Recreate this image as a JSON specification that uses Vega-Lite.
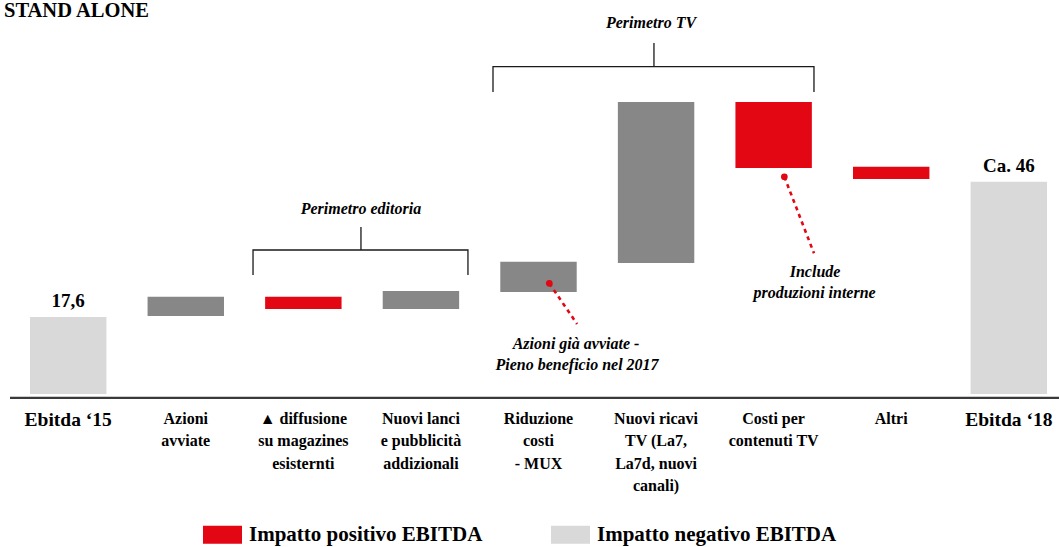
{
  "$schema": "https://vega.github.io/schema/vega-lite/v6.json",
  "width": 1049,
  "height": 394,
  "autosize": {"type": "none"},
  "padding": {"left": 10, "top": 0, "right": 0, "bottom": 153},
  "background": "white",
  "config": {"view": {"stroke": null}, "font": "Liberation Serif, Times New Roman, serif"},
  "datasets": {
    "barre": [
      {"voce": "Ebitda ‘15", "inizio": 0, "fine": 17.6, "tipo": "Ebitda", "etichetta": "17,6"},
      {"voce": "Azioni|avviate", "inizio": 17.8, "fine": 22.2, "tipo": "Iniziative", "etichetta": ""},
      {"voce": "▲ diffusione|su magazines|esisternti", "inizio": 19.4, "fine": 22.2, "tipo": "Impatto positivo EBITDA", "etichetta": ""},
      {"voce": "Nuovi lanci|e pubblicità|addizionali", "inizio": 19.4, "fine": 23.5, "tipo": "Iniziative", "etichetta": ""},
      {"voce": "Riduzione|costi|- MUX", "inizio": 23.3, "fine": 30.2, "tipo": "Iniziative", "etichetta": ""},
      {"voce": "Nuovi ricavi|TV (La7,|La7d, nuovi|canali)", "inizio": 29.9, "fine": 66.7, "tipo": "Iniziative", "etichetta": ""},
      {"voce": "Costi per|contenuti TV", "inizio": 51.6, "fine": 66.7, "tipo": "Impatto positivo EBITDA", "etichetta": ""},
      {"voce": "Altri", "inizio": 49.1, "fine": 51.9, "tipo": "Impatto positivo EBITDA", "etichetta": ""},
      {"voce": "Ebitda ‘18", "inizio": 0, "fine": 48.5, "tipo": "Ebitda", "etichetta": "Ca. 46"}
    ],
    "parentesi": [
      {"gruppo": "ed", "ordine": 1, "u": 1.572, "v": 27.18},
      {"gruppo": "ed", "ordine": 2, "u": 1.572, "v": 32.89},
      {"gruppo": "ed", "ordine": 3, "u": 3.400, "v": 32.89},
      {"gruppo": "ed", "ordine": 4, "u": 3.400, "v": 27.18},
      {"gruppo": "ed_s", "ordine": 1, "u": 2.490, "v": 32.89},
      {"gruppo": "ed_s", "ordine": 2, "u": 2.490, "v": 38.15},
      {"gruppo": "tv", "ordine": 1, "u": 3.613, "v": 68.98},
      {"gruppo": "tv", "ordine": 2, "u": 3.613, "v": 74.76},
      {"gruppo": "tv", "ordine": 3, "u": 6.343, "v": 74.76},
      {"gruppo": "tv", "ordine": 4, "u": 6.343, "v": 68.98},
      {"gruppo": "tv_s", "ordine": 1, "u": 4.982, "v": 74.76},
      {"gruppo": "tv_s", "ordine": 2, "u": 4.982, "v": 80.17}
    ],
    "richiami": [
      {"gruppo": "mux", "ordine": 1, "u": 4.092, "v": 25.29},
      {"gruppo": "mux", "ordine": 2, "u": 4.328, "v": 15.99},
      {"gruppo": "cont", "ordine": 1, "u": 6.091, "v": 49.63},
      {"gruppo": "cont", "ordine": 2, "u": 6.343, "v": 32.14}
    ],
    "note": [
      {"testo": "Perimetro TV", "u": 4.957, "v": 84.74},
      {"testo": "Perimetro editoria", "u": 2.490, "v": 42.15},
      {"testo": "Azioni già avviate -", "u": 4.319, "v": 11.35},
      {"testo": "Pieno beneficio nel 2017", "u": 4.328, "v": 6.62},
      {"testo": "Include", "u": 6.352, "v": 27.94},
      {"testo": "produzioni interne", "u": 6.348, "v": 23.18}
    ],
    "titolo": [
      {"testo": "STAND ALONE", "u": -0.546, "v": 86.2}
    ]
  },
  "layer": [
    {
      "data": {"name": "barre"},
      "layer": [
        {
          "mark": {"type": "bar"},
          "encoding": {
            "x": {
              "field": "voce", "type": "nominal", "sort": null,
              "scale": {"paddingInner": 0.35, "paddingOuter": 0.136, "align": 0.625},
              "axis": {
                "title": null, "domain": false, "ticks": false, "labelAngle": 0,
                "labelPadding": 16, "labelExpr": "split(datum.label, '|')",
                "labelFont": "Liberation Serif, Times New Roman, serif", "labelFontWeight": "bold", "labelColor": "#000000",
                "labelLineHeight": 22.5, "labelLimit": 0, "labelOverlap": false, "labelFlush": false,
                "labelFontSize": {"condition": {"test": "indexof(datum.value, 'Ebitda') === 0", "value": 19.5}, "value": 16}
              }
            },
            "y": {"field": "inizio", "type": "quantitative", "scale": {"domain": [0, 90], "nice": false, "zero": false}, "axis": null},
            "y2": {"field": "fine"},
            "color": {
              "field": "tipo", "type": "nominal",
              "scale": {
                "domain": ["Impatto positivo EBITDA", "Impatto negativo EBITDA", "Ebitda", "Iniziative"],
                "range": ["#E30613", "#D9D9D9", "#D9D9D9", "#878787"]
              },
              "legend": {
                "title": null, "orient": "none", "legendX": 193, "legendY": 515, "direction": "horizontal",
                "values": ["Impatto positivo EBITDA", "Impatto negativo EBITDA"],
                "symbolType": "M-1,-0.46H1V0.46H-1Z", "symbolSize": 1521, "symbolStrokeWidth": 0, "symbolOpacity": 1,
                "labelFont": "Liberation Serif, Times New Roman, serif", "labelFontWeight": "bold", "labelFontSize": 21, "labelColor": "#000000",
                "labelOffset": 7, "columnPadding": 68, "labelLimit": 0, "padding": 0
              }
            }
          }
        },
        {
          "transform": [{"filter": "datum.etichetta !== ''"}],
          "mark": {"type": "text", "font": "Liberation Serif, Times New Roman, serif", "fontWeight": "bold", "fontSize": 19, "baseline": "alphabetic", "dy": -10, "color": "#000000"},
          "encoding": {
            "x": {"field": "voce", "type": "nominal", "sort": null},
            "y": {"field": "fine", "type": "quantitative", "scale": {"domain": [0, 90], "nice": false, "zero": false}},
            "text": {"field": "etichetta"}
          }
        }
      ]
    },
    {
      "data": {"values": [{}]},
      "mark": {"type": "rule", "color": "#3a3a3a", "strokeWidth": 2.2},
      "encoding": {
        "y": {"datum": -0.9, "type": "quantitative", "scale": {"domain": [0, 90], "nice": false, "zero": false}}
      }
    },
    {
      "data": {"name": "parentesi"},
      "mark": {"type": "line", "color": "#1a1a1a", "strokeWidth": 1.3},
      "encoding": {
        "x": {"field": "u", "type": "quantitative", "scale": {"domain": [-0.495, 8.427], "nice": false, "zero": false}, "axis": null},
        "y": {"field": "v", "type": "quantitative", "scale": {"domain": [0, 90], "nice": false, "zero": false}},
        "detail": {"field": "gruppo"},
        "order": {"field": "ordine"}
      }
    },
    {
      "data": {"name": "richiami"},
      "mark": {"type": "line", "color": "#E30613", "strokeWidth": 2.6, "strokeDash": [4, 4]},
      "encoding": {
        "x": {"field": "u", "type": "quantitative", "scale": {"domain": [-0.495, 8.427], "nice": false, "zero": false}, "axis": null},
        "y": {"field": "v", "type": "quantitative", "scale": {"domain": [0, 90], "nice": false, "zero": false}},
        "detail": {"field": "gruppo"},
        "order": {"field": "ordine"}
      }
    },
    {
      "data": {"name": "richiami"},
      "transform": [{"filter": "datum.ordine === 1"}],
      "mark": {"type": "point", "filled": true, "color": "#E30613", "size": 45, "opacity": 1},
      "encoding": {
        "x": {"field": "u", "type": "quantitative", "scale": {"domain": [-0.495, 8.427], "nice": false, "zero": false}, "axis": null},
        "y": {"field": "v", "type": "quantitative", "scale": {"domain": [0, 90], "nice": false, "zero": false}}
      }
    },
    {
      "data": {"name": "note"},
      "mark": {"type": "text", "font": "Liberation Serif, Times New Roman, serif", "fontWeight": "bold", "fontStyle": "italic", "fontSize": 16, "baseline": "middle", "align": "center", "color": "#000000"},
      "encoding": {
        "x": {"field": "u", "type": "quantitative", "scale": {"domain": [-0.495, 8.427], "nice": false, "zero": false}, "axis": null},
        "y": {"field": "v", "type": "quantitative", "scale": {"domain": [0, 90], "nice": false, "zero": false}},
        "text": {"field": "testo"}
      }
    },
    {
      "data": {"name": "titolo"},
      "mark": {"type": "text", "font": "Liberation Serif, Times New Roman, serif", "fontWeight": "bold", "fontSize": 20.5, "baseline": "alphabetic", "align": "left", "color": "#000000"},
      "encoding": {
        "x": {"field": "u", "type": "quantitative", "scale": {"domain": [-0.495, 8.427], "nice": false, "zero": false}, "axis": null},
        "y": {"field": "v", "type": "quantitative", "scale": {"domain": [0, 90], "nice": false, "zero": false}},
        "text": {"field": "testo"}
      }
    }
  ],
  "resolve": {"scale": {"x": "independent"}}
}
